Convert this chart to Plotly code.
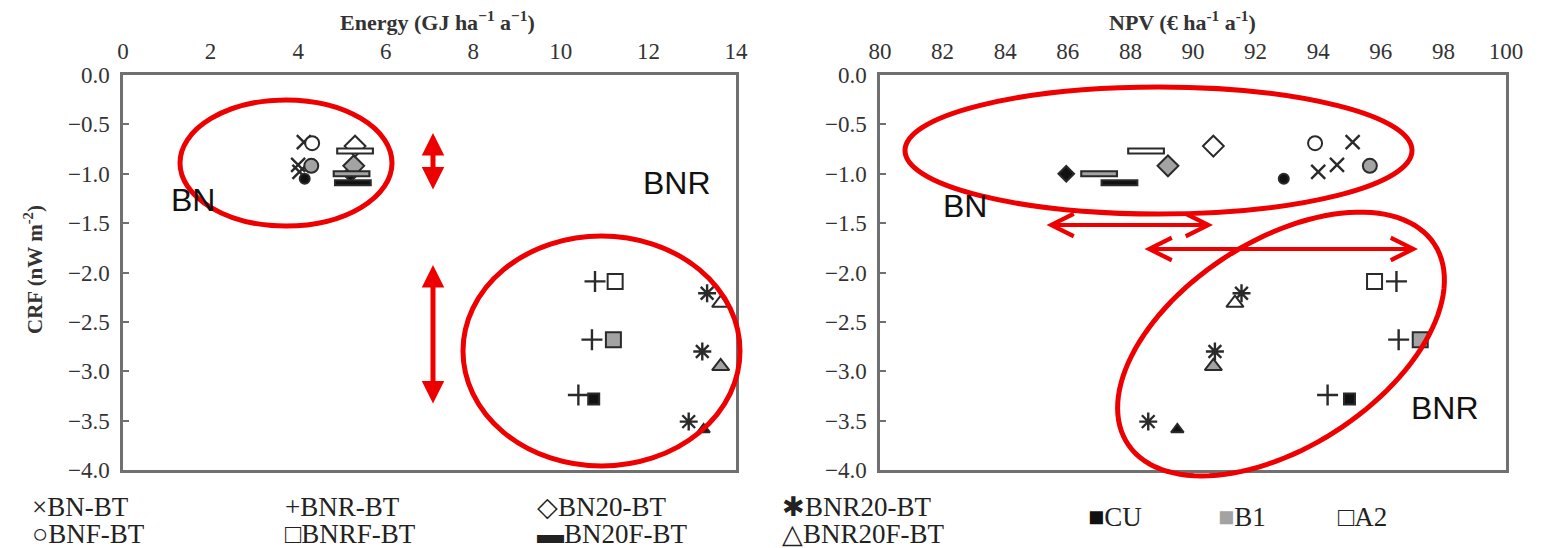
import numpy as np
import plotly.graph_objects as go

# ---------------- data ----------------
scenarios = ["BN-BT", "BNF-BT", "BN20-BT", "BN20F-BT", "BNR-BT", "BNRF-BT", "BNR20-BT", "BNR20F-BT"]
climates = ["CU", "B1", "A2"]

crf_CU = [-0.98, -1.05, -1.00, -1.09, -3.24, -3.28, -3.51, -3.59]
crf_B1 = [-0.91, -0.92, -0.92, -1.00, -2.68, -2.68, -2.80, -2.95]
crf_A2 = [-0.68, -0.69, -0.72, -0.77, -2.09, -2.09, -2.21, -2.31]

energy_CU = [4.03, 4.15, 5.20, 5.25, 10.40, 10.75, 12.92, 13.26]
energy_B1 = [4.00, 4.30, 5.27, 5.22, 10.71, 11.20, 13.23, 13.65]
energy_A2 = [4.13, 4.32, 5.30, 5.30, 10.78, 11.24, 13.34, 13.65]

npv_CU = [94.0, 92.9, 85.95, 87.65, 94.3, 95.0, 88.57, 89.5]
npv_B1 = [94.6, 95.65, 89.2, 87.0, 96.57, 97.26, 90.7, 90.65]
npv_A2 = [95.1, 93.9, 90.65, 88.5, 96.5, 95.8, 91.55, 91.34]

energy_ticks = [0, 2, 4, 6, 8, 10, 12, 14]
npv_ticks = [80, 82, 84, 86, 88, 90, 92, 94, 96, 98, 100]
crf_ticks = [0.0, -0.5, -1.0, -1.5, -2.0, -2.5, -3.0, -3.5, -4.0]

# ---------------- styles ----------------
FILL = {"CU": "#111111", "B1": "#a3a3a3", "A2": "#ffffff"}
EDGE = "#2a2a2a"
SYM = {
    "BN-BT": ("x-thin-open", 14, "line"),
    "BNF-BT": ("circle", 14, "fill"),
    "BN20-BT": ("diamond", 16, "fill"),
    "BN20F-BT": ("line-ew-open", 27, "dash"),
    "BNR-BT": ("cross-thin-open", 15, "line"),
    "BNRF-BT": ("square", 15, "fill"),
    "BNR20-BT": ("asterisk-open", 15, "line"),
    "BNR20F-BT": ("triangle-up", 15, "fill"),
}

# page body has an 8px margin: reference pixel coords are shifted by OFF
OFF = 8
W, H = 1547 - OFF, 548 - OFF
L, T = 123 - OFF, 75 - OFF
R = W - (1506 - OFF)
B = H - (470 - OFF)
PW, PH = W - L - R, H - T - B


def px(x):
    return (x - OFF - L) / PW


def py(y):
    return (H - B - (y - OFF)) / PH


fig = go.Figure()

crf_by = {"CU": crf_CU, "B1": crf_B1, "A2": crf_A2}
en_by = {"CU": energy_CU, "B1": energy_B1, "A2": energy_A2}
npv_by = {"CU": npv_CU, "B1": npv_B1, "A2": npv_A2}

for xdata, xa, ya in [(en_by, "x", "y"), (npv_by, "x2", "y2")]:
    for i, sc in enumerate(scenarios):
        sym, size, kind = SYM[sc]
        xs = [xdata[c][i] for c in climates]
        ys = [crf_by[c][i] for c in climates]
        if kind == "line":
            fig.add_trace(go.Scatter(x=xs, y=ys, mode="markers", xaxis=xa, yaxis=ya,
                                     marker=dict(symbol=sym, size=size, color=EDGE, opacity=1,
                                                 line=dict(width=2.4)),
                                     showlegend=False, name=sc))
        elif kind == "fill":
            fig.add_trace(go.Scatter(x=xs, y=ys, mode="markers", xaxis=xa, yaxis=ya,
                                     marker=dict(symbol=sym, size=[size - 4, size, size], opacity=1,
                                                 color=[FILL[c] for c in climates],
                                                 line=dict(width=2, color=EDGE)),
                                     showlegend=False, name=sc))
        else:
            fig.add_trace(go.Scatter(x=xs, y=ys, mode="markers", xaxis=xa, yaxis=ya,
                                     marker=dict(symbol=sym, size=size, color=EDGE, opacity=1,
                                                 line=dict(width=7)),
                                     showlegend=False, name=sc))
            fig.add_trace(go.Scatter(x=xs, y=ys, mode="markers", xaxis=xa, yaxis=ya,
                                     marker=dict(symbol=sym, size=size - 3, color=[FILL[c] for c in climates],
                                                 opacity=1, line=dict(width=3)),
                                     showlegend=False, name=sc))

TICKFONT = dict(family="Liberation Serif", size=23, color="#333333")
AX = dict(showline=True, mirror=True, linecolor="#707070", linewidth=2.5, showgrid=False, zeroline=False,
          tickfont=TICKFONT, automargin=False)

fig.update_layout(
    width=W, height=H,
    margin=dict(l=L, r=R, t=T, b=B),
    paper_bgcolor="white", plot_bgcolor="white",
    showlegend=False,
    xaxis=dict(domain=[0, px(736)], range=[0, 14], tickvals=energy_ticks, side="top", anchor="y",
               ticks="", ticklabelstandoff=4, **AX),
    xaxis2=dict(domain=[px(880), 1], range=[80, 100], tickvals=npv_ticks, side="top", anchor="y2",
                ticks="", ticklabelstandoff=4, **AX),
    yaxis=dict(domain=[0, 1], range=[-4, 0], tickvals=crf_ticks, tickformat=".1f", anchor="x",
               ticks="inside", ticklen=6, tickcolor="#707070", tickwidth=2, ticklabelstandoff=6, **AX),
    yaxis2=dict(domain=[0, 1], range=[-4, 0], tickvals=crf_ticks, tickformat=".1f", anchor="x2",
                ticks="inside", ticklen=6, tickcolor="#707070", tickwidth=2, ticklabelstandoff=6, **AX),
)

ann = []


def text_at(x, y, text, font, xanchor="center", **kw):
    ann.append(dict(x=px(x), y=py(y), xref="paper", yref="paper", showarrow=False,
                    xanchor=xanchor, yanchor="middle", text=text, font=font, **kw))


TITLEFONT = dict(family="Liberation Serif", size=22, color="#333333")
text_at(437, 21, "<b>Energy (GJ ha<sup>−1</sup> a<sup>−1</sup>)</b>", TITLEFONT)
text_at(1182, 21, "<b>NPV (€ ha<sup>-1</sup> a<sup>-1</sup>)</b>", TITLEFONT)
text_at(33, 270, "<b>CRF (nW m<sup>-2</sup>)</b>", dict(family="Liberation Serif", size=21, color="#333333"),
        textangle=-90)

# legend as text
LEGFONT = dict(family="Liberation Serif", size=27, color="#222222")
leg_rows = [
    [(30, "×BN-BT"), (283, "+BNR-BT"), (535, "◇BN20-BT"), (780, "✱BNR20-BT")],
    [(30, "○BNF-BT"), (283, "□BNRF-BT"), (535, "▬BN20F-BT"), (780, "△BNR20F-BT")],
]
for row_y, row in zip([507, 534], leg_rows):
    for x0, txt in row:
        text_at(x0, row_y, txt, LEGFONT, xanchor="left")
for x0, sq, col, lab in [(1086, "■", "#111111", "CU"), (1216, "■", "#a3a3a3", "B1"), (1336, "□", "#222222", "A2")]:
    text_at(x0, 517, f"<span style='color:{col}'>{sq}</span>{lab}", LEGFONT, xanchor="left")

# group labels
LABFONT = dict(family="Liberation Sans", size=32, color="#111111")
for (cx, cy, txt) in [(193, 200, "BN"), (677, 183, "BNR"), (965, 206, "BN"), (1445, 408, "BNR")]:
    text_at(cx, cy, txt, LABFONT)

RED = "#ee0000"
# vertical double arrows (left panel)
for (x, y0, y1) in [(433, 133, 191), (433, 265, 405)]:
    ann.append(dict(x=px(x), y=py(y0), xref="paper", yref="paper", ax=0, ay=y1 - y0,
                    axref="pixel", ayref="pixel", text="", showarrow=True,
                    arrowside="end+start", arrowhead=2, startarrowhead=2,
                    arrowsize=0.9, startarrowsize=0.9, arrowwidth=5, arrowcolor=RED))
# horizontal double arrows (right panel)
for (y, x0, x1) in [(225, 1045, 1213), (249, 1143, 1418)]:
    ann.append(dict(x=px(x1), y=py(y), xref="paper", yref="paper", ax=x0 - x1, ay=0,
                    axref="pixel", ayref="pixel", text="", showarrow=True,
                    arrowside="end+start", arrowhead=5, startarrowhead=5,
                    arrowsize=1.1, startarrowsize=1.1, arrowwidth=4, arrowcolor=RED))
fig.update_layout(annotations=ann)

shapes = []
for (x0, y0, x1, y1) in [(180, 100, 392, 226), (463, 236, 740, 466), (905, 87, 1412, 214)]:
    shapes.append(dict(type="circle", xref="paper", yref="paper",
                       x0=px(x0), x1=px(x1), y0=py(y1), y1=py(y0),
                       line=dict(color=RED, width=5)))
# tilted ellipse (right panel BNR)
cx, cy, a, b, th = 1281, 344, 183, 103, np.deg2rad(33)
t = np.linspace(0, 2 * np.pi, 120)
ex = cx + a * np.cos(t) * np.cos(th) - b * np.sin(t) * np.sin(th)
ey = cy - (a * np.cos(t) * np.sin(th) + b * np.sin(t) * np.cos(th))
path = "M " + " L ".join(f"{px(u):.5f},{py(v):.5f}" for u, v in zip(ex, ey)) + " Z"
shapes.append(dict(type="path", xref="paper", yref="paper", path=path, line=dict(color=RED, width=5)))
fig.update_layout(shapes=shapes)

fig.write_html("out.html")
